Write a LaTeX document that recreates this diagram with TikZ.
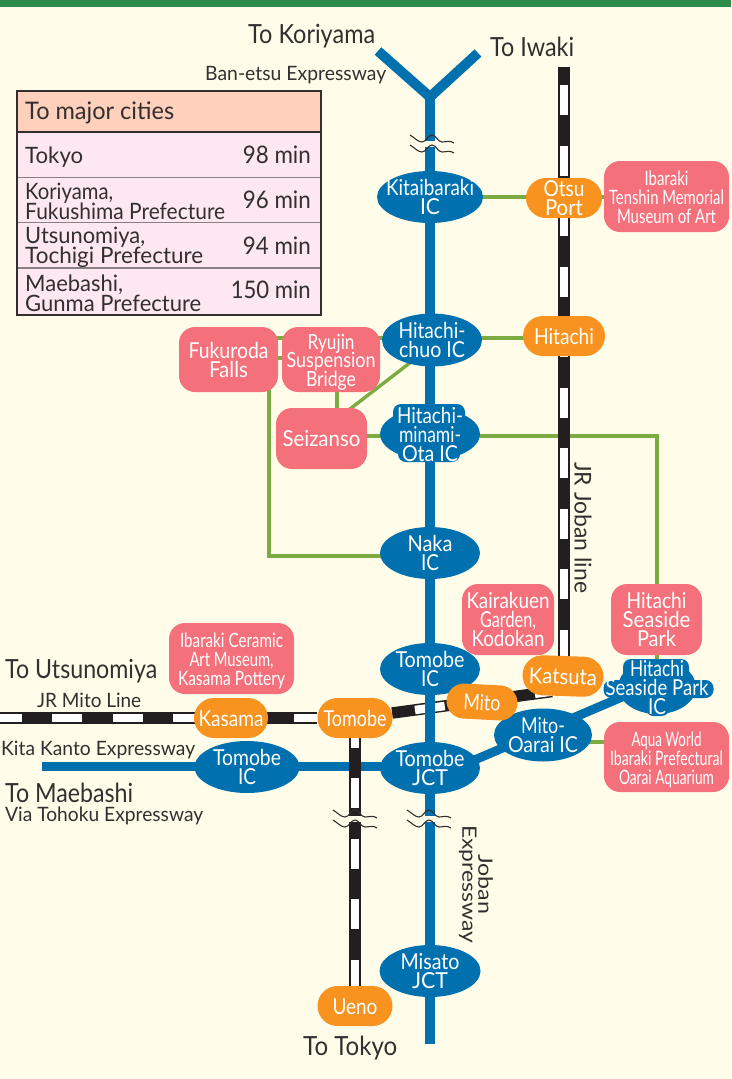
\documentclass[tikz,border=0pt]{standalone}
\usepackage{fontspec}
\usepackage{graphicx}
\setmainfont{Lato}
\usetikzlibrary{backgrounds,shapes.geometric,shapes.misc}
\definecolor{bgc}{HTML}{FFFDE9}
\definecolor{topc}{HTML}{2E8B4A}
\definecolor{bluec}{HTML}{0071AE}
\definecolor{orangec}{HTML}{F7931E}
\definecolor{pinkc}{HTML}{F4717C}
\definecolor{greenc}{HTML}{7CAB42}
\definecolor{inkc}{HTML}{332F2E}
\definecolor{headc}{HTML}{FFD0BB}
\definecolor{rowc}{HTML}{FDE8F1}
\definecolor{sepc}{HTML}{8A8084}
\definecolor{railc}{HTML}{231F20}
\newcommand\fw[2]{\resizebox{#1pt}{1.1\height}{#2}}
\newcommand\fwflat[2]{\smash{\resizebox{#1pt}{1.1\height}{#2}}}
\newcommand\fsz[2]{\fontsize{#1}{#2}\selectfont}
\newcommand\tightlines{\setlength{\lineskiplimit}{-30pt}}
\newcommand\lbl[1]{{\let\fw\fwflat\setbox0=\hbox{\begin{tabular}{@{}c@{}}#1\end{tabular}}\makebox[0pt][c]{\smash{\raisebox{\dimexpr(\dp0-\ht0)/2-4.5pt\relax}{\copy0}}}}}
\tikzset{
  x=1pt,y=-1pt,
  ell/.style={shape=ellipse,fill=bluec,text=white,inner sep=0pt,minimum width=#1,minimum height=52pt,font=\fsz{20}{19}},
  pill/.style={shape=rounded rectangle,fill=orangec,text=white,inner sep=0pt,minimum width=#1,minimum height=40pt,font=\fsz{20}{19}},
  pinkbox/.style n args={2}{shape=rectangle,rounded corners=16pt,fill=pinkc,text=white,inner sep=0pt,minimum width=#1,minimum height=#2,font=\fsz{20}{19}},
  halo/.style={shape=rectangle,rounded corners=8pt,fill=bluec,inner sep=0pt},
  captext/.style={text=inkc,inner sep=0pt,font=\fsz{24}{24},anchor=west},
  smalltext/.style={text=inkc,inner sep=0pt,font=\fsz{18}{19},anchor=west},
  celltext/.style={text=inkc,inner sep=0pt,font=\fsz{20.5}{20}\tightlines,anchor=west,align=left},
  mintext/.style={text=inkc,inner sep=0pt,font=\fsz{22}{20},anchor=east},
  road/.style={draw=bluec,line width=10pt,line join=miter},
  link/.style={draw=greenc,line width=3.4pt},
  railblack/.style={draw=railc,line width=11.5pt},
  railwhite/.style={draw=white,line width=8.5pt,dash pattern=on 30pt off 30.5pt},
}
\newcommand\brk[2]{%
  \begin{scope}[shift={(#1,#2)}]
    \draw[bgc,line width=6pt] (-18,0) -- (18,0);
    \foreach \d in {-5,5}{
      \draw[inkc,line width=1.1pt,yshift=-\d pt]
        (-22,-4) .. controls (-17,-1) and (-14,3) .. (-10,3)
        .. controls (-6,3) and (-4,-4) .. (0,-4)
        .. controls (4,-4) and (6,3) .. (10,3)
        .. controls (14,3) and (18,1) .. (22,4);
    }
  \end{scope}}
\begin{document}
\begin{tikzpicture}
\useasboundingbox (0,0) rectangle (731,1079);
% ---------- stations and interchanges
\node[ell=106pt] (kita) at (430,197) {\lbl{\fw{88}{Kitaibaraki}\\\fw{20}{IC}}};
\node[ell=100pt,minimum height=53pt] (chuo) at (432,340) {\lbl{\fw{67}{Hitachi-}\\\fw{66}{chuo IC}}};
\node[ell=100pt] (minami) at (430,434) {\lbl{\fw{66}{Hitachi-}\\\fw{62}{minami-}\\\fw{56}{Ota IC}}};
\node[ell=100pt] (naka) at (430,553) {\lbl{\fw{45}{Naka}\\\fw{18}{IC}}};
\node[ell=100pt] (tomobeic) at (430,669) {\lbl{\fw{69}{Tomobe}\\\fw{18}{IC}}};
\node[ell=100pt] (tomobejct) at (430,768) {\lbl{\fw{69}{Tomobe}\\\fw{36}{JCT}}};
\node[ell=98pt,minimum height=53pt] (oarai) at (543,735) {\lbl{\fw{44}{Mito-}\\\fw{70}{Oarai IC}}};
\node[ell=78pt,minimum height=54pt] (seaside) at (657,687) {\lbl{\fw{54}{Hitachi}\\\fw{103}{Seaside Park}\\\fw{18}{IC}}};
\node[ell=105pt] (tomobewest) at (247,767) {\lbl{\fw{68}{Tomobe}\\\fw{18}{IC}}};
\node[ell=101pt] (misato) at (430,971) {\lbl{\fw{59}{Misato}\\\fw{36}{JCT}}};
\node[pill=76pt] (otsu) at (564,198) {\lbl{\fw{41}{Otsu}\\\fw{38}{Port}}};
\node[pill=82pt] (hitachi) at (564,336) {\lbl{\fw{60}{Hitachi}}};
\node[pill=81pt,rotate=-2] (katsuta) at (563,676) {\lbl{\fw{68}{Katsuta}}};
\node[pill=71pt,minimum height=35pt,rotate=-3] (mito) at (482,702) {\lbl{\fw{37}{Mito}}};
\node[pill=75pt] (tomobest) at (355,718) {\lbl{\fw{63}{Tomobe}}};
\node[pill=74pt] (kasama) at (231,718) {\lbl{\fw{65}{Kasama}}};
\node[pill=75pt] (ueno) at (355,1006) {\lbl{\fw{45}{Ueno}}};
% ---------- attractions
\node[pinkbox={125pt}{71pt},font=\fsz{18}{19}] (tenshin) at (666.5,196.5) {\lbl{\fw{44}{Ibaraki}\\\fw{115}{Tenshin Memorial}\\\fw{99}{Museum of Art}}};
\node[pinkbox={99pt}{65pt}] (fukuroda) at (228.5,359.5) {\lbl{\fw{80}{Fukuroda}\\\fw{39}{Falls}}};
\node[pinkbox={98pt}{65pt},font=\fsz{19}{18.5}] (ryujin) at (331,359.5) {\lbl{\fw{47}{Ryujin}\\\fw{89}{Suspension}\\\fw{50}{Bridge}}};
\node[pinkbox={91pt}{61pt}] (seizanso) at (321.5,438.5) {\lbl{\fw{78}{Seizanso}}};
\node[pinkbox={92pt}{71pt},font=\fsz{20}{19}] (kairakuen) at (508,619.5) {\lbl{\fw{83}{Kairakuen}\\\fw{56}{Garden,}\\\fw{73}{Kodokan}}};
\node[pinkbox={91pt}{71pt},font=\fsz{20}{19}] (parkbox) at (656.5,619.5) {\lbl{\fw{60}{Hitachi}\\\fw{68}{Seaside}\\\fw{39}{Park}}};
\node[pinkbox={125pt}{70pt},font=\fsz{18}{19}] (aqua) at (666.5,757) {\lbl{\fw{70}{Aqua World}\\\fw{113}{Ibaraki Prefectural}\\\fw{95}{Oarai Aquarium}}};
\node[pinkbox={125pt}{71pt},font=\fsz{18}{19}] (ceramic) at (231.5,658.5) {\lbl{\fw{103}{Ibaraki Ceramic}\\\fw{84}{Art Museum,}\\\fw{107}{Kasama Pottery}}};
% ---------- free ends and bends
\coordinate (koriyama) at (378,51);
\coordinate (iwaki) at (478,53);
\coordinate (fork) at (430,97);
\coordinate (jobanend) at (430,1044);
\coordinate (kantoend) at (42,766);
\coordinate (kantoin) at (430,766);
\coordinate (seasidea) at (430,779);
\coordinate (seasideb) at (656,682.5);
\coordinate (joban) at (564,67);
\coordinate (jobanw) at (564,85);
\coordinate (jobanbtm) at (564,670);
\coordinate (mitoend) at (0,718);
\coordinate (mitow) at (-8.5,718);
\coordinate (oblw) at (415,710);
\coordinate (oble) at (552,691.5);
\coordinate (southw) at (355,717.5);
\coordinate (kitalink) at (430,197);
\coordinate (tenlink) at (660,197);
\coordinate (fdown) at (269,385);
\coordinate (fbend) at (269,556);
\coordinate (nakalink) at (430,556);
\coordinate (pbend) at (657,436);
\coordinate (plink) at (657,600);
\coordinate (minlink) at (430,436);
\coordinate (seizlink) at (340,436);
\coordinate (a2) at (282,358);
\coordinate (a3) at (276,358);
\coordinate (a4) at (276,338);
\coordinate (hitlink) at (564,338);
\coordinate (v1) at (337,385);
\coordinate (v2) at (337,415);
\coordinate (d1) at (350,409);
\coordinate (d2) at (411,362);
\coordinate (oalink) at (543,742);
\coordinate (aqlink) at (650,742);
\begin{scope}[on background layer]
  \fill[bgc] (0,0) rectangle (731,1079);
  \fill[topc] (0,0) rectangle (731,7);
  % links
  \draw[link] (kitalink) -- (tenlink);
  \draw[link] (a4) -- (hitlink);
  \draw[link] (a3) -- (a2);
  \draw[link] (v1) -- (v2);
  \draw[link] (d1) -- (d2);
  \draw[link] (seizlink) -- (minlink);
  \draw[link] (minlink) -- (pbend) -- (plink);
  \draw[link] (plink) -- (seaside.center);
  \draw[link] (fdown) -- (fbend) -- (nakalink);
  \draw[link] (oalink) -- (aqlink);
  % Joban line
  \draw[railblack] (joban) -- (jobanbtm);
  \draw[railwhite] (jobanw) -- (jobanbtm);
  % Mito line
  \draw[railblack] (mitoend) -- (tomobest);
  \draw[railwhite] (mitow) -- (tomobest);
  \draw[railblack] (tomobest) -- (oble);
  \draw[railwhite] (oblw) -- (oble);
  % expressways
  \draw[road,line cap=butt] (koriyama) -- (fork) -- (iwaki);
  \draw[road] (fork) -- (jobanend);
  \draw[road,line width=9pt] (kantoend) -- (kantoin);
  \draw[road,line width=9pt] (seasidea) -- (seasideb);
  % Mito-Ueno line, over the expressway
  \draw[railblack] (tomobest) -- (ueno);
  \draw[railwhite] (southw) -- (ueno);
  % break marks
  \brk{432}{144}
  \brk{429}{819}
  \brk{355}{819}
  % halos of the outlined names
  \node[halo,minimum width=72pt,minimum height=20pt] (h1) at (429,414) {};
  \node[halo,minimum width=62pt,minimum height=18pt] (h2) at (429,453) {};
  \node[halo,minimum width=66pt,minimum height=22pt] (h3) at (656,670) {};
  \node[halo,minimum width=110pt,minimum height=18pt] (h4) at (658.5,689) {};
  \node[halo,minimum width=24pt,minimum height=20pt] (h5) at (657.5,706) {};
\end{scope}
% ---------- table
\fill[rowc] (17,91) rectangle (321,315);
\fill[headc] (17,91) rectangle (321,132);
\draw[sepc,line width=1.4pt] (17,177.5) -- (321,177.5) (17,222.5) -- (321,222.5) (17,268) -- (321,268);
\draw[inkc,line width=1.6pt] (17,132) -- (321,132);
\draw[inkc,line width=1.8pt] (17,91) rectangle (321,315);
\node[captext,font=\fsz{22}{24}] (tablehead) at (25,113) {\fw{149}{To major cities}};
\node[celltext] (rtokyo) at (25,157) {\fw{58}{Tokyo}};
\node[celltext] (rkori) at (25,201.5) {\fw{88}{Koriyama,}\\\fw{200}{Fukushima Prefecture}};
\node[celltext] (rutsu) at (25,247.5) {\fw{120}{Utsunomiya,}\\\fw{178}{Tochigi Prefecture}};
\node[celltext] (rmae) at (25,293.5) {\fw{98}{Maebashi,}\\\fw{176}{Gunma Prefecture}};
\node[mintext] (m1) at (311,155) {\fw{68}{98 min}};
\node[mintext] (m2) at (311,200) {\fw{68}{96 min}};
\node[mintext] (m3) at (311,246) {\fw{68}{94 min}};
\node[mintext] (m4) at (311,290) {\fw{80}{150 min}};
% ---------- captions
\node[captext] (tkori) at (248,36) {\fw{127}{To Koriyama}};
\node[captext] (tiwaki) at (490,47) {\fw{84}{To Iwaki}};
\node[smalltext] (tban) at (205,75) {\fw{181}{Ban-etsu Expressway}};
\node[captext,font=\fsz{21}{24},rotate=-90] (tjoban) at (583,462) {\fw{131}{JR Joban line}};
\node[text=inkc,inner sep=0pt,font=\fsz{18}{16},rotate=-90] (texpw) at (478,884) {\lbl{\fw{60}{Joban}\\\fw{118}{Expressway}}};
\node[captext] (tutsu) at (5,671) {\fw{152}{To Utsunomiya}};
\node[smalltext] (tjrm) at (37,700) {\fw{104}{JR Mito Line}};
\node[smalltext] (tkk) at (1,750) {\fw{194}{Kita Kanto Expressway}};
\node[captext] (tmae) at (5,793) {\fw{128}{To Maebashi}};
\node[smalltext] (tvia) at (5,816) {\fw{198}{Via Tohoku Expressway}};
\node[captext] (ttok) at (303,1048) {\fw{94}{To Tokyo}};
\end{tikzpicture}
\end{document}
